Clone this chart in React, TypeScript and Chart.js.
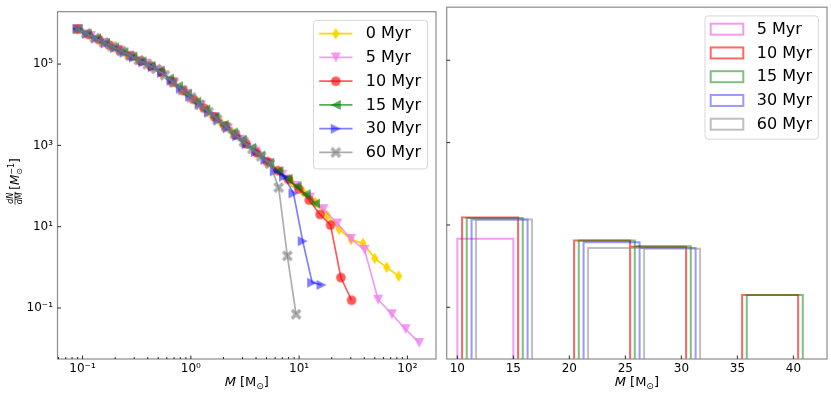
import React, { useEffect, useRef } from 'react';
import { Chart, registerables } from 'chart.js';

Chart.register(...registerables);

const FONT = '"DejaVu Sans", "Liberation Sans", sans-serif';

// ---------- Left panel: dN/dM vs M ----------
const LEFT_LABELS = ['0 Myr', '5 Myr', '10 Myr', '15 Myr', '30 Myr', '60 Myr'];

const M_0 = [0.09, 0.116, 0.149, 0.192, 0.247, 0.318, 0.41, 0.528, 0.679, 0.875, 1.127, 1.452, 1.87, 2.4, 3.1, 3.99, 5.14, 6.62, 8.51, 10.96, 14.1, 18.2, 23.4, 30.2, 38.9, 50.0, 64.4, 83.0];
const Y_0 = [7.3e5, 5.2e5, 3.7e5, 2.6e5, 1.87e5, 1.32e5, 9.4e4, 6.5e4, 3.7e4, 2.1e4, 1.18e4, 6.7e3, 3.8e3, 2.15e3, 1.22e3, 690, 390, 220, 125, 71, 40, 19, 8.7, 4.8, 3.9, 1.66, 1.0, 0.61];

const M_5 = [0.09, 0.12, 0.161, 0.215, 0.288, 0.385, 0.514, 0.687, 0.92, 1.23, 1.64, 2.2, 2.94, 3.94, 5.26, 7.03, 9.4, 12.6, 16.8, 22.5, 30.1, 40.2, 53.7, 71.9, 96.2, 128.5];
const Y_5 = [7.3e5, 4.9e5, 3.3e5, 2.25e5, 1.52e5, 1.03e5, 6.9e4, 3.6e4, 1.86e4, 9.7e3, 5.0e3, 2.6e3, 1.37e3, 710, 370, 192, 100, 52, 27, 12, 5.0, 2.7, 0.16, 0.07, 0.03, 0.0138];

const M_10 = [0.09, 0.1125, 0.141, 0.176, 0.22, 0.275, 0.345, 0.432, 0.54, 0.676, 0.845, 1.057, 1.324, 1.656, 2.07, 2.59, 3.24, 4.06, 5.07, 6.35, 7.94, 9.93, 12.4, 15.6, 19.5, 24.3, 30.5];
const Y_10 = [7.3e5, 5.4e5, 4.0e5, 2.94e5, 2.18e5, 1.61e5, 1.19e5, 8.8e4, 6.2e4, 3.7e4, 2.25e4, 1.36e4, 8.2e3, 5.0e3, 3.0e3, 1.81e3, 1.1e3, 660, 400, 240, 146, 85, 45, 20, 11, 0.56, 0.155];

const M_15 = [0.09, 0.109, 0.133, 0.161, 0.195, 0.238, 0.288, 0.35, 0.425, 0.516, 0.627, 0.76, 0.924, 1.122, 1.361, 1.656, 2.01, 2.44, 2.96, 3.6, 4.37, 5.3, 6.44, 7.82, 9.48, 11.5, 14.0];
const Y_15 = [7.3e5, 5.6e5, 4.3e5, 3.3e5, 2.56e5, 1.97e5, 1.51e5, 1.17e5, 9.0e4, 6.8e4, 4.4e4, 2.86e4, 1.85e4, 1.19e4, 7.7e3, 5.0e3, 3.2e3, 2.08e3, 1.35e3, 870, 560, 363, 234, 151, 98, 63, 37];

const M_30 = [0.09, 0.11, 0.134, 0.164, 0.2, 0.244, 0.298, 0.364, 0.445, 0.542, 0.662, 0.809, 0.986, 1.205, 1.472, 1.8, 2.19, 2.68, 3.27, 3.99, 4.88, 5.96, 7.26, 8.87, 10.8, 13.2, 16.1];
const Y_30 = [7.3e5, 5.6e5, 4.3e5, 3.25e5, 2.48e5, 1.9e5, 1.45e5, 1.11e5, 8.4e4, 6.1e4, 3.9e4, 2.5e4, 1.6e4, 1.02e4, 6.5e3, 4.1e3, 2.64e3, 1.68e3, 1.07e3, 690, 440, 230, 170, 66, 4.4, 0.42, 0.37];

const M_60 = [0.09, 0.108, 0.13, 0.157, 0.189, 0.228, 0.274, 0.33, 0.398, 0.479, 0.577, 0.695, 0.836, 1.007, 1.213, 1.462, 1.758, 2.12, 2.55, 3.08, 3.7, 4.46, 5.37, 6.47, 7.78, 9.38];
const Y_60 = [7.3e5, 5.7e5, 4.4e5, 3.4e5, 2.7e5, 2.1e5, 1.62e5, 1.26e5, 9.8e4, 7.6e4, 5.3e4, 3.5e4, 2.3e4, 1.52e4, 1.0e4, 6.6e3, 4.35e3, 2.86e3, 1.88e3, 1.23e3, 815, 536, 352, 92, 1.92, 0.07];

const LEFT_COLORS = [
  'rgba(255,215,0,1)',
  'rgba(238,130,238,0.8)',
  'rgba(255,0,0,0.65)',
  'rgba(0,128,0,0.65)',
  'rgba(0,0,255,0.5)',
  'rgba(128,128,128,0.65)',
];
const LEFT_MARKERS = ['thinDiamond', 'triDown', 'circle', 'triLeft', 'triRight', 'xFilled'];

// ---------- Right panel: histograms ----------
const HIST_LABELS = ['5 Myr', '10 Myr', '15 Myr', '30 Myr', '60 Myr'];
const BIN_EDGES = [10, 15, 20, 25, 30, 35, 40];
const HIST_OFFSETS = [0, 0.42, 0.84, 1.27, 1.67];
const H_5 = [4.6, 0, 0, 0, 0, 0];
const H_10 = [15.2, 0, 4.2, 2.95, 0, 0.2];
const H_15 = [14.8, 0, 4.2, 3.05, 0, 0.2];
const H_30 = [13.6, 0, 3.8, 2.75, 0, 0];
const H_60 = [13.6, 0, 2.75, 2.65, 0, 0];
const HIST_COLORS = [
  'rgba(238,130,238,0.8)',
  'rgba(255,0,0,0.6)',
  'rgba(0,128,0,0.5)',
  'rgba(0,0,255,0.4)',
  'rgba(128,128,128,0.5)',
];

// ---------- Axes ----------
const Y_MIN = 5.56e-3;
const Y_MAX = 1.945e6;
const Y_TICKS = [0.1, 10, 1000, 100000];
const X_LOG_MIN = 0.0587;
const X_LOG_MAX = 183.7;
const X_DECADES = [0.01, 0.1, 1, 10, 100];
const X_MULTS = [1, 2, 3, 4, 5, 6, 7, 8, 9];
const X_LIN_MIN = 9.05;
const X_LIN_MAX = 43.0;
const X_LIN_TICKS = [10, 15, 20, 25, 30, 35, 40];
const HIST_FLOOR = 1e-3;

const SUP: Record<string, string> = { '-': '⁻', '0': '⁰', '1': '¹', '2': '²', '3': '³', '4': '⁴', '5': '⁵', '6': '⁶', '7': '⁷', '8': '⁸', '9': '⁹' };
function isPow10(v: number) {
  const e = Math.log10(v);
  return Math.abs(e - Math.round(e)) < 1e-9;
}
function powLabel(v: number) {
  const e = Math.round(Math.log10(v));
  return '10' + String(e).split('').map((c) => SUP[c]).join('');
}

function makeMarker(kind: string, color: string): HTMLCanvasElement {
  const s = 16;
  const c = document.createElement('canvas');
  c.width = s;
  c.height = s;
  const g = c.getContext('2d')!;
  g.fillStyle = color;
  g.translate(s / 2, s / 2);
  g.beginPath();
  const r = 5;
  if (kind === 'thinDiamond') {
    g.moveTo(0, -5.8); g.lineTo(3.6, 0); g.lineTo(0, 5.8); g.lineTo(-3.6, 0);
  } else if (kind === 'triDown') {
    g.moveTo(-r, -r); g.lineTo(r, -r); g.lineTo(0, r);
  } else if (kind === 'triLeft') {
    g.moveTo(-r, 0); g.lineTo(r, -r); g.lineTo(r, r);
  } else if (kind === 'triRight') {
    g.moveTo(r, 0); g.lineTo(-r, -r); g.lineTo(-r, r);
  } else if (kind === 'circle') {
    g.arc(0, 0, 4.8, 0, Math.PI * 2);
  } else if (kind === 'xFilled') {
    g.rotate(Math.PI / 4);
    const L = 6, w = 1.7;
    g.moveTo(-w, -L); g.lineTo(w, -L); g.lineTo(w, -w); g.lineTo(L, -w); g.lineTo(L, w); g.lineTo(w, w);
    g.lineTo(w, L); g.lineTo(-w, L); g.lineTo(-w, w); g.lineTo(-L, w); g.lineTo(-L, -w); g.lineTo(-w, -w);
  }
  g.closePath();
  g.fill();
  return c;
}

const framePlugin = {
  id: 'frame',
  afterDatasetsDraw(chart: any) {
    const { ctx, chartArea: a } = chart;
    ctx.save();
    ctx.strokeStyle = '#8c8c8c';
    ctx.lineWidth = 1.2;
    ctx.strokeRect(a.left, a.top, a.right - a.left, a.bottom - a.top);
    ctx.restore();
  },
};

const tickPlugin = {
  id: 'inTicks',
  afterDatasetsDraw(chart: any) {
    const { ctx, chartArea: a } = chart;
    const xs = chart.scales.x;
    const ys = chart.scales.y;
    ctx.save();
    ctx.strokeStyle = '#111';
    ctx.lineWidth = 0.9;
    ctx.beginPath();
    for (const t of xs.ticks) {
      const p = xs.getPixelForValue(t.value);
      const major = xs.type !== 'logarithmic' || isPow10(t.value);
      const len = major ? 3.5 : 2;
      ctx.moveTo(p, a.bottom);
      ctx.lineTo(p, a.bottom - len);
    }
    for (const t of ys.ticks) {
      const p = ys.getPixelForValue(t.value);
      ctx.moveTo(a.left, p);
      ctx.lineTo(a.left + 3.5, p);
    }
    ctx.stroke();
    ctx.restore();
  },
};

function makeLegendPlugin(kind: 'line' | 'patch', width: number, height: number, padRight: number, padTop: number, textDx: number) {
  return {
    id: 'mplLegend',
    afterDraw(chart: any) {
      const { ctx, chartArea: a } = chart;
      const L = a.right - padRight - width;
      const T = a.top + padTop;
      ctx.save();
      ctx.beginPath();
      if ((ctx as any).roundRect) (ctx as any).roundRect(L, T, width, height, 3);
      else ctx.rect(L, T, width, height);
      ctx.fillStyle = 'rgba(255,255,255,0.8)';
      ctx.fill();
      ctx.strokeStyle = '#d6d6d6';
      ctx.lineWidth = 1;
      ctx.stroke();
      const items = chart.data.datasets.filter((d: any) => d.label);
      items.forEach((d: any, i: number) => {
        const y = T + 13.3 + 23.75 * i;
        if (kind === 'line') {
          ctx.strokeStyle = d.borderColor;
          ctx.lineWidth = d.borderWidth;
          ctx.beginPath();
          ctx.moveTo(L + 5.7, y);
          ctx.lineTo(L + 39, y);
          ctx.stroke();
          const img = d.pointStyle as HTMLCanvasElement;
          ctx.drawImage(img, L + 22.3 - img.width / 2, y - img.height / 2);
        } else {
          ctx.strokeStyle = d.borderColor;
          ctx.lineWidth = 2;
          ctx.strokeRect(L + 5.7, y - 5.5, 32.6, 11);
        }
        ctx.fillStyle = '#000';
        ctx.font = `16px ${FONT}`;
        ctx.textBaseline = 'middle';
        ctx.textAlign = 'left';
        ctx.fillText(d.label, L + textDx, y + 0.5);
      });
      ctx.restore();
    },
  };
}

function drawParts(ctx: CanvasRenderingContext2D, parts: [string, string, number][], cx: number, base: number) {
  let total = 0;
  const widths = parts.map(([t, f]) => { ctx.font = f; const w = ctx.measureText(t).width; total += w; return w; });
  let x = cx - total / 2;
  parts.forEach(([t, f, dy], i) => {
    ctx.font = f;
    ctx.fillText(t, x, base + dy);
    x += widths[i];
  });
}

function makeAxisLabelPlugin(withY: boolean) {
  return {
    id: 'axisLabels',
    afterDraw(chart: any) {
      const { ctx, chartArea: a } = chart;
      ctx.save();
      ctx.fillStyle = '#000';
      ctx.textBaseline = 'alphabetic';
      ctx.textAlign = 'left';
      const fI = `italic 13px ${FONT}`;
      const fR = `13px ${FONT}`;
      const fS = `9px ${FONT}`;
      drawParts(ctx, [['M', fI, 0], [' [', fR, 0], ['M', fR, 0], ['⊙', fS, 3], [']', fR, 0]], (a.left + a.right) / 2, 386);
      if (withY) {
        ctx.translate(15, 181.5);
        ctx.rotate(-Math.PI / 2);
        const fF = `italic 8px ${FONT}`;
        const fB = `12px ${FONT}`;
        const fBI = `italic 12px ${FONT}`;
        const fSS = `8px ${FONT}`;
        ctx.font = fF;
        const fw = Math.max(ctx.measureText('dN').width, ctx.measureText('dM').width) + 1;
        ctx.font = fB;
        const wOpen = ctx.measureText('[').width;
        const wClose = ctx.measureText(']').width;
        ctx.font = fBI;
        const wM = ctx.measureText('M').width;
        ctx.font = fSS;
        const wSup = Math.max(ctx.measureText('−1').width, ctx.measureText('⊙').width);
        const gap = 2;
        const total = fw + gap + wOpen + wM + wSup + wClose;
        let x = -total / 2;
        ctx.font = fF;
        ctx.textAlign = 'center';
        ctx.fillText('dN', x + fw / 2, -1.8);
        ctx.fillText('dM', x + fw / 2, 7.2);
        ctx.lineWidth = 0.7;
        ctx.strokeStyle = '#000';
        ctx.beginPath();
        ctx.moveTo(x, 0);
        ctx.lineTo(x + fw, 0);
        ctx.stroke();
        ctx.textAlign = 'left';
        x += fw + gap;
        ctx.font = fB;
        ctx.fillText('[', x, 4.3);
        x += wOpen;
        ctx.font = fBI;
        ctx.fillText('M', x, 4.3);
        x += wM;
        ctx.font = fSS;
        ctx.fillText('−1', x, -1.5);
        ctx.fillText('⊙', x, 7.3);
        x += wSup;
        ctx.font = fB;
        ctx.fillText(']', x, 4.3);
      }
      ctx.restore();
    },
  };
}

function histOutline(heights: number[], offset: number) {
  const pts: { x: number; y: number | null }[] = [];
  heights.forEach((h, i) => {
    if (h <= 0) return;
    const x0 = BIN_EDGES[i] + offset;
    const x1 = BIN_EDGES[i + 1] + offset;
    pts.push({ x: x0, y: HIST_FLOOR }, { x: x0, y: h }, { x: x1, y: h }, { x: x1, y: HIST_FLOOR }, { x: x1, y: null });
  });
  return pts;
}

export default function App() {
  const leftRef = useRef<HTMLCanvasElement>(null);
  const rightRef = useRef<HTMLCanvasElement>(null);

  useEffect(() => {
    const tickFont = { family: FONT, size: 12 };
    const seriesM = [M_0, M_5, M_10, M_15, M_30, M_60];
    const seriesY = [Y_0, Y_5, Y_10, Y_15, Y_30, Y_60];

    const leftDatasets = LEFT_LABELS.map((label, i) => ({
      label,
      data: seriesM[i].map((m, j) => ({ x: m, y: seriesY[i][j] })),
      borderColor: LEFT_COLORS[i],
      backgroundColor: LEFT_COLORS[i],
      borderWidth: 1.7,
      pointStyle: makeMarker(LEFT_MARKERS[i], LEFT_COLORS[i]),
      pointRadius: 4,
      pointBorderWidth: 0,
      tension: 0,
      order: LEFT_LABELS.length - i,
    }));

    const left = new Chart(leftRef.current!, {
      type: 'line',
      data: { datasets: leftDatasets as any },
      options: {
        animation: false,
        responsive: false,
        devicePixelRatio: 1,
        events: [],
        layout: { padding: { left: 0, right: 1.5, top: 3, bottom: 0 } },
        plugins: { legend: { display: false }, tooltip: { enabled: false } },
        scales: {
          x: {
            type: 'logarithmic',
            min: X_LOG_MIN,
            max: X_LOG_MAX,
            grid: { display: false, drawTicks: false },
            border: { display: false },
            afterBuildTicks: (scale: any) => {
              const vals: { value: number }[] = [];
              X_DECADES.forEach((d) => X_MULTS.forEach((m) => {
                const v = +(d * m).toPrecision(6);
                if (v > X_LOG_MIN && v < X_LOG_MAX) vals.push({ value: v });
              }));
              scale.ticks = vals;
            },
            afterFit: (scale: any) => { scale.height = 34; },
            ticks: {
              autoSkip: false,
              maxRotation: 0,
              padding: 3,
              color: '#000',
              font: tickFont,
              callback: (v: any) => (isPow10(Number(v)) ? powLabel(Number(v)) : ''),
            },
          },
          y: {
            type: 'logarithmic',
            min: Y_MIN,
            max: Y_MAX,
            grid: { display: false, drawTicks: false },
            border: { display: false },
            afterBuildTicks: (scale: any) => { scale.ticks = Y_TICKS.map((v) => ({ value: v })); },
            afterFit: (scale: any) => { scale.width = 57.5; },
            ticks: {
              autoSkip: false,
              padding: 4.5,
              color: '#000',
              font: tickFont,
              callback: (v: any) => powLabel(Number(v)),
            },
          },
        },
      },
      plugins: [framePlugin, tickPlugin, makeLegendPlugin('line', 114, 148.5, 8.5, 8.7, 52.3), makeAxisLabelPlugin(true)],
    });

    const hists = [H_5, H_10, H_15, H_30, H_60];
    const rightDatasets = HIST_LABELS.map((label, i) => ({
      label,
      data: histOutline(hists[i], HIST_OFFSETS[i]),
      borderColor: HIST_COLORS[i],
      backgroundColor: HIST_COLORS[i],
      borderWidth: 2,
      pointRadius: 0,
      spanGaps: false,
      tension: 0,
      clip: 0,
      order: HIST_LABELS.length - i,
    }));

    const right = new Chart(rightRef.current!, {
      type: 'line',
      data: { datasets: rightDatasets as any },
      options: {
        animation: false,
        responsive: false,
        devicePixelRatio: 1,
        events: [],
        layout: { padding: { left: 0, right: 4, top: 3, bottom: 0 } },
        plugins: { legend: { display: false }, tooltip: { enabled: false } },
        scales: {
          x: {
            type: 'linear',
            min: X_LIN_MIN,
            max: X_LIN_MAX,
            grid: { display: false, drawTicks: false },
            border: { display: false },
            afterBuildTicks: (scale: any) => { scale.ticks = X_LIN_TICKS.map((v) => ({ value: v })); },
            afterFit: (scale: any) => { scale.height = 34; },
            ticks: { autoSkip: false, maxRotation: 0, padding: 3, color: '#000', font: tickFont },
          },
          y: {
            type: 'logarithmic',
            min: Y_MIN,
            max: Y_MAX,
            grid: { display: false, drawTicks: false },
            border: { display: false },
            afterBuildTicks: (scale: any) => { scale.ticks = Y_TICKS.map((v) => ({ value: v })); },
            afterFit: (scale: any) => { scale.width = 6.7; },
            ticks: { autoSkip: false, padding: 0, font: tickFont, callback: () => '' },
          },
        },
      },
      plugins: [framePlugin, tickPlugin, makeLegendPlugin('patch', 113.3, 123.3, 8.7, 8.7, 51.7), makeAxisLabelPlugin(false)],
    });

    return () => {
      left.destroy();
      right.destroy();
    };
  }, []);

  return (
    <div style={{ position: 'absolute', left: 0, top: 0, width: 831, height: 393, background: '#fff' }}>
      <canvas ref={leftRef} width={440} height={393} style={{ position: 'absolute', left: 0, top: 0 }} />
      <canvas ref={rightRef} width={391} height={393} style={{ position: 'absolute', left: 440, top: 0 }} />
    </div>
  );
}
